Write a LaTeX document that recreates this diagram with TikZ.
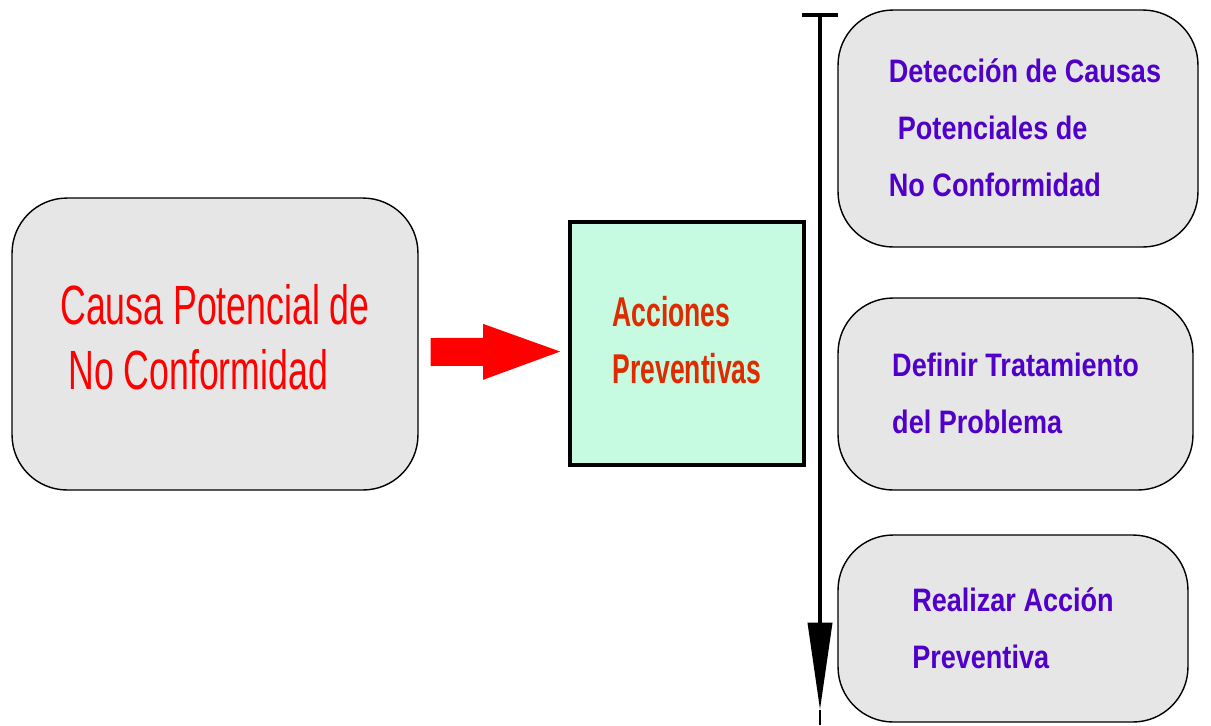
\documentclass[tikz,border=0pt]{standalone}
\usepackage{fontspec}
\setmainfont{Liberation Sans}
\usetikzlibrary{arrows.meta,calc}

\definecolor{boxgray}{RGB}{230,230,230}
\definecolor{mintgreen}{RGB}{198,251,226}
\definecolor{rustred}{RGB}{222,44,0}
\definecolor{stepblue}{RGB}{80,0,200}

% tall narrow lettering of the original
\newcommand{\tallrows}[2]{\scalebox{1}[#1]{\begin{tabular}[t]{@{}l@{}}#2\end{tabular}}}

\begin{document}
\begin{tikzpicture}[x=0.02cm, y=-0.02cm,
        softbox/.style={draw=black, line width=0.8pt, fill=boxgray, rounded corners=1.1cm, inner sep=0pt},
        actionbox/.style={draw=black, line width=2.2pt, fill=mintgreen, inner sep=0pt},
        steptext/.style={text=stepblue, font=\fontsize{15.4pt}{27pt}\selectfont\bfseries}]
        \useasboundingbox (0,0) rectangle (1211,725);

        % Cause box
        \node[softbox, minimum width=8.12cm, minimum height=5.84cm, text=red,
              font=\fontsize{20.3pt}{23.9pt}\selectfont] (cause) at (215,344)
              {\tallrows{1.55}{Causa Potencial de\\\hspace*{0.16cm}No Conformidad}};

        % Preventive actions box
        \node[actionbox, minimum width=4.68cm, minimum height=4.86cm, text=rustred,
              font=\fontsize{15.1pt}{20.6pt}\selectfont\bfseries] (acc) at (687,343.5)
              {\tallrows{1.57}{Acciones\\Preventivas}};

        % Red arrow
        \draw[red, line width=0.56cm, -{Triangle[length=1.7cm, width=0.96cm]}]
              ($(cause.east)+(12,8)$) -- ($(acc.west)+(0,8)$);

        % Steps
        \node[softbox, steptext, minimum width=7.2cm, minimum height=4.74cm] (detect) at (1018,128.5)
              {\hspace*{0.28cm}\tallrows{1.2}{Detección de Causas\\\hspace*{0.18cm}Potenciales de\\No Conformidad}};
        \node[softbox, steptext, minimum width=7.1cm, minimum height=3.84cm] (treat) at (1015.5,394)
              {\tallrows{1.2}{Definir Tratamiento\\del Problema}};
        \node[softbox, steptext, minimum width=7.0cm, minimum height=3.74cm] (act) at (1013,628.5)
              {\tallrows{1.2}{Realizar Acción\\Preventiva}};

        % Time line
        \coordinate (tleft) at (802,15);
        \coordinate (tright) at (838,15);
        \coordinate (ltop) at (820,15);
        \coordinate (ltip) at (820,710);
        \coordinate (lbot) at (820,725);
        \draw[line width=2.2pt] (tleft) -- (tright);
        \draw[line width=2.2pt, -{Triangle[length=1.75cm, width=0.48cm]}] (ltop) -- (ltip);
        \draw[line width=0.8pt] (ltip) -- (lbot);
    \end{tikzpicture}
\end{document}
